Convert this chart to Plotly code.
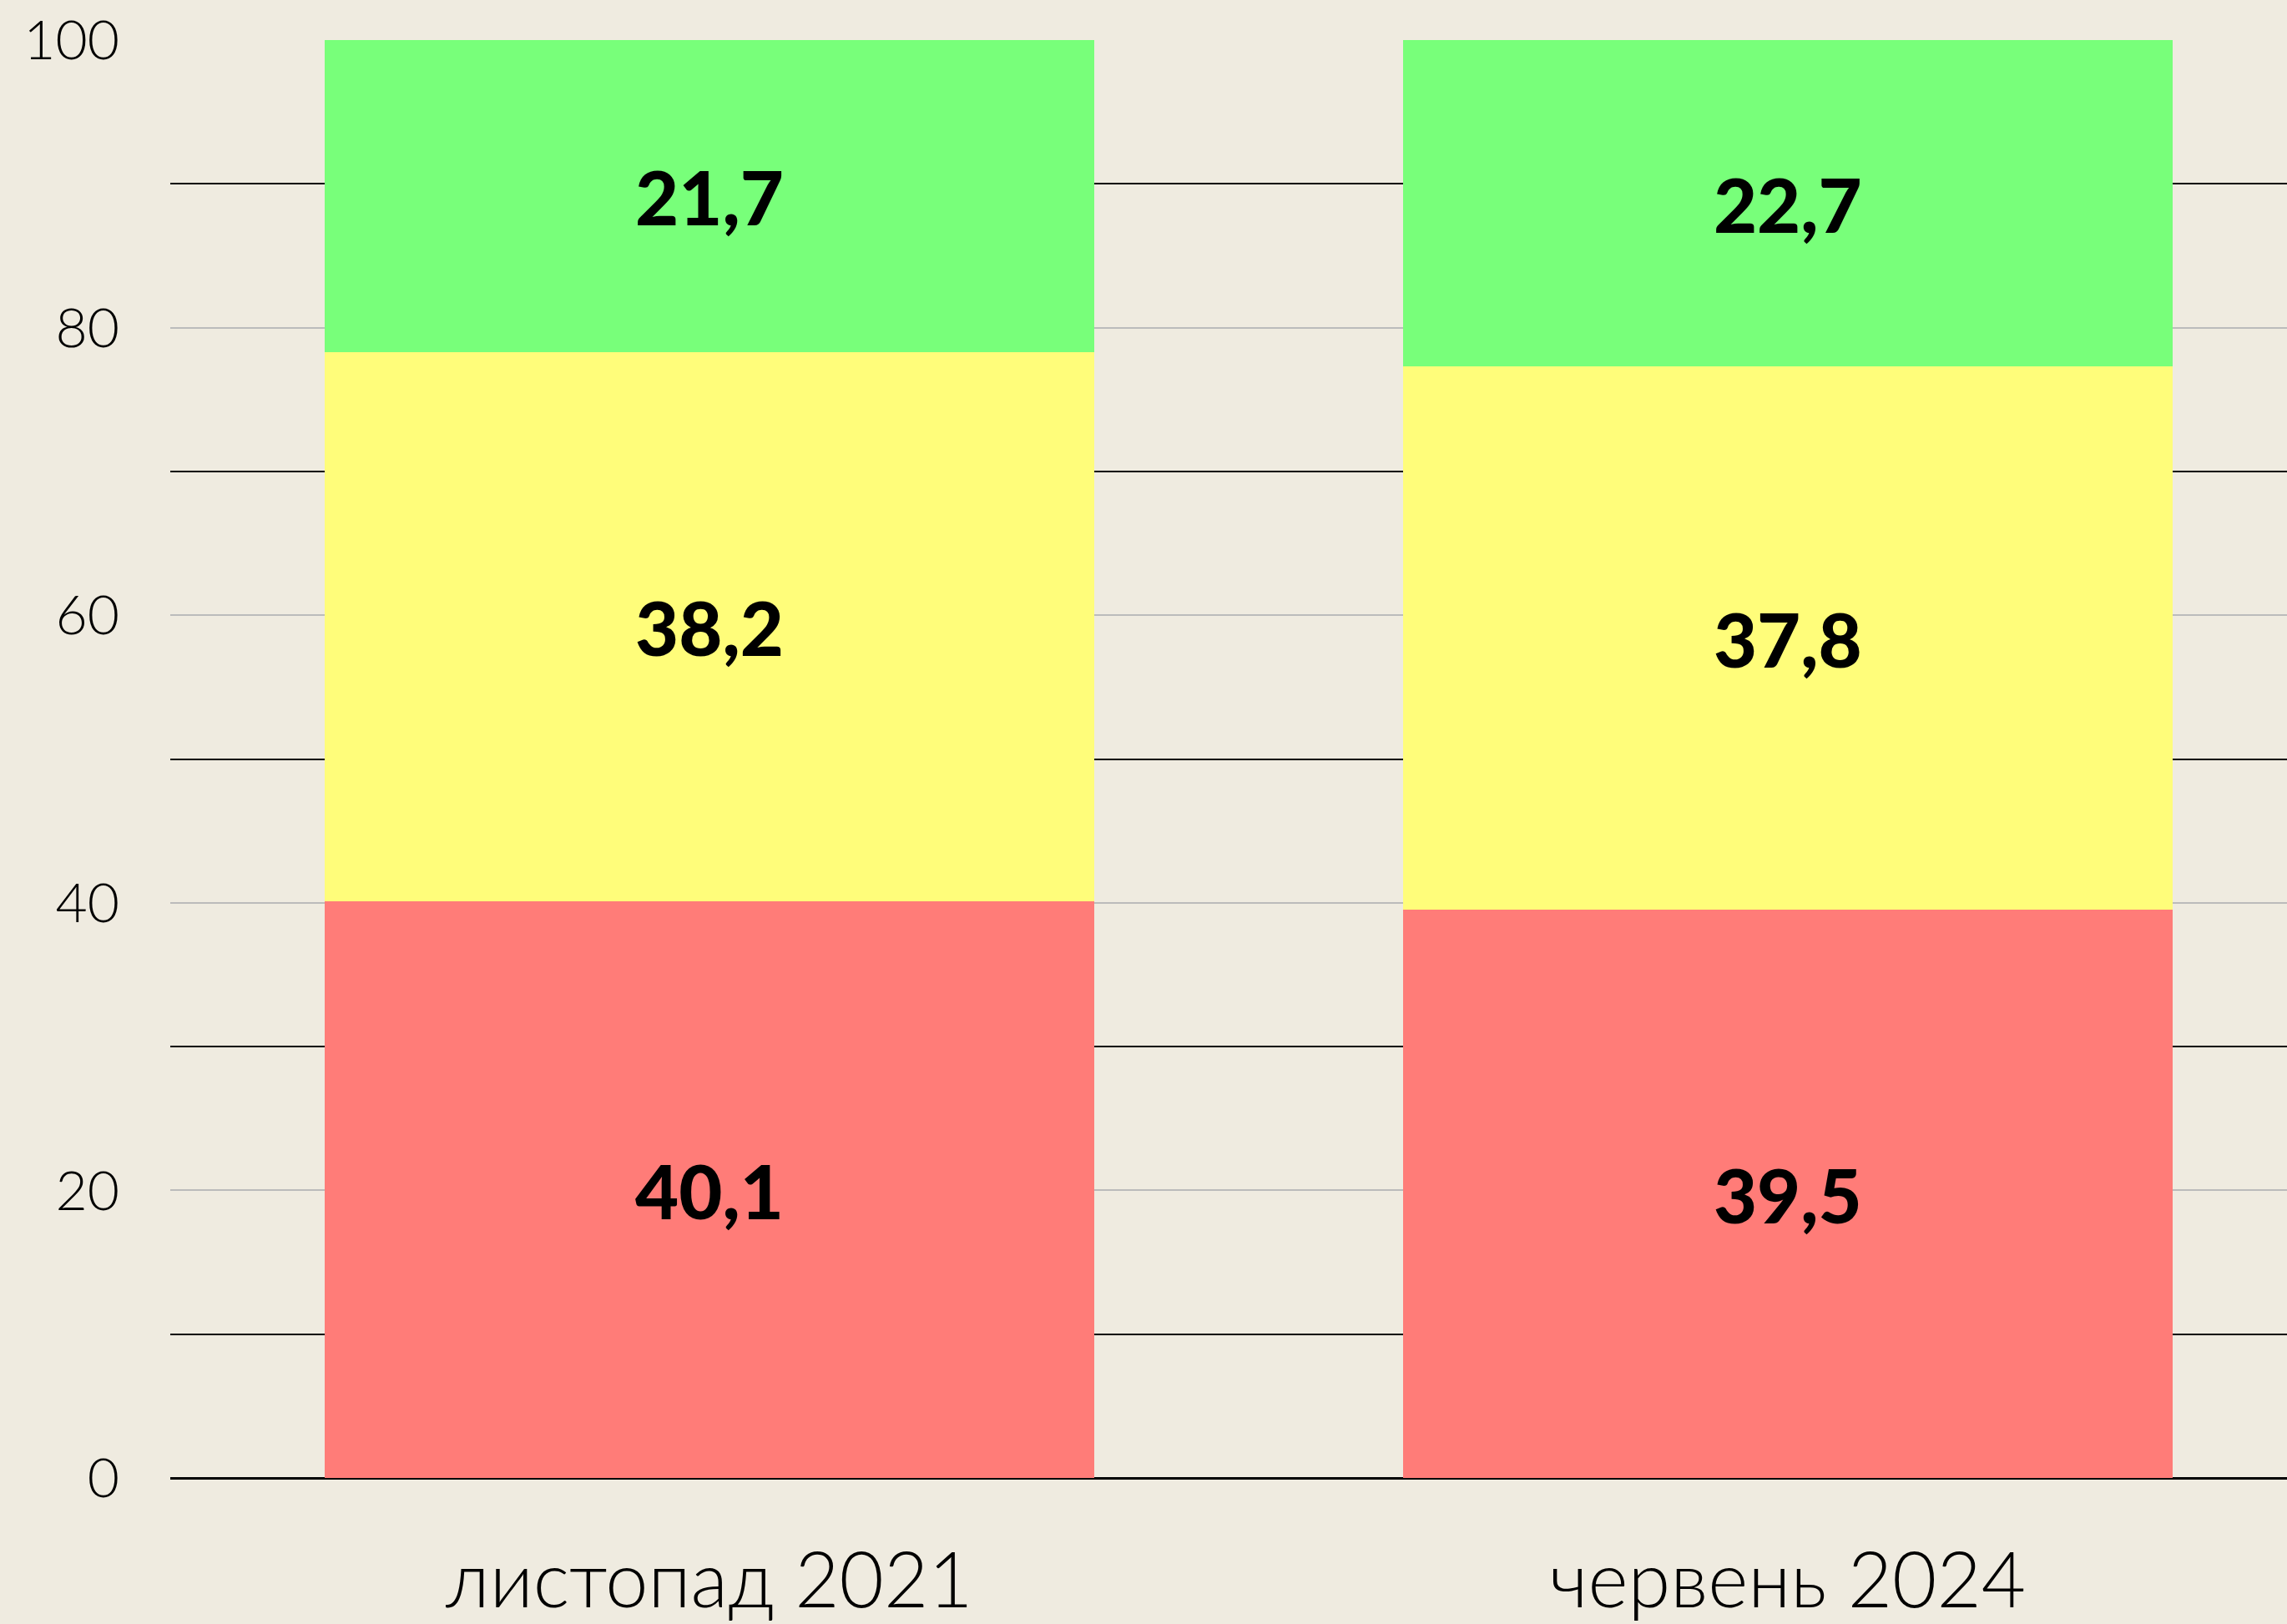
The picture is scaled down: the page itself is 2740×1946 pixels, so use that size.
import plotly.graph_objects as go

categories = ["листопад 2021", "червень 2024"]
red_vals = [40.1, 39.5]
yellow_vals = [38.2, 37.8]
green_vals = [21.7, 22.7]
y_ticks = [0, 20, 40, 60, 80, 100]

def fmt(v):
    return f"{v:.1f}".replace(".", ",")

series = [
    (red_vals, "#FF7C78"),
    (yellow_vals, "#FFFD7A"),
    (green_vals, "#78FF7A"),
]

fig = go.Figure()
for vals, col in series:
    fig.add_trace(go.Bar(
        x=categories, y=vals, marker=dict(color=col, line=dict(width=0)),
        text=[fmt(v) for v in vals], textposition="inside",
        insidetextanchor="middle", constraintext="none",
        textfont=dict(family="Lato", size=90, color="black", weight=900),
        width=0.714, showlegend=False, hoverinfo="skip",
    ))

fig.update_layout(
    barmode="stack",
    width=2740, height=1946,
    margin=dict(l=204, r=0, t=48, b=173),
    paper_bgcolor="#EFEBE0", plot_bgcolor="#EFEBE0",
    showlegend=False,
)
fig.update_xaxes(
    range=[-0.5, 1.463], showgrid=False, showline=False, ticks="",
    tickfont=dict(family="Lato", size=92, color="black", weight=300),
    ticklabelstandoff=62,
)
fig.update_yaxes(
    range=[0, 100], tickvals=y_ticks, ticktext=[str(t) for t in y_ticks],
    showgrid=True, gridcolor="#BBBBBB", gridwidth=2,
    minor=dict(dtick=10, tick0=10, showgrid=True, gridcolor="#000000", gridwidth=2),
    zeroline=True, zerolinecolor="#000000", zerolinewidth=3,
    showline=False, ticks="",
    tickfont=dict(family="Lato", size=66, color="black", weight=300),
    ticklabelstandoff=60,
)
fig.write_html(
    "out.html",
    config={"displayModeBar": False},
    post_script="document.body.style.margin='0';document.body.style.background='#EFEBE0';",
)
